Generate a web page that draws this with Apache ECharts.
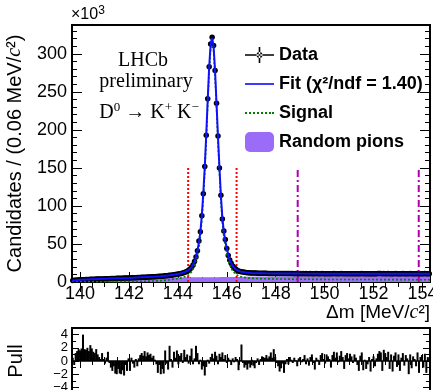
<!DOCTYPE html>
<html><head><meta charset="utf-8">
<script src="https://cdn.jsdelivr.net/npm/echarts@6/dist/echarts.min.js"></script>
<style>html,body{margin:0;padding:0;background:#fff}#c{width:433px;height:390px}</style>
</head><body><div id="c"></div><script>
// ---------------- data ----------------
const binStart = 139.67, binWidth = 0.06;   // histogram binning (MeV/c^2)
// Candidates per bin, in units of 10^3
const counts = [
 2.0, 2.2, 2.4, 2.5, 2.7, 2.8, 2.9, 3.0, 3.1, 3.2,
 3.3, 3.4, 3.5, 3.6, 3.6, 3.7, 3.8, 3.9, 3.9, 4.0,
 4.1, 4.1, 4.2, 4.3, 4.3, 4.4, 4.5, 4.5, 4.6, 4.7,
 4.8, 4.8, 4.9, 5.0, 5.0, 5.1, 5.2, 5.3, 5.3, 5.4,
 5.5, 5.6, 5.6, 5.7, 5.8, 5.9, 6.0, 6.1, 6.2, 6.3,
 6.4, 6.5, 6.6, 6.7, 6.8, 6.8, 6.9, 7.1, 7.2, 7.4,
 7.5, 7.7, 7.9, 8.1, 8.3, 8.5, 8.8, 9.0, 9.3, 9.6,
 9.9, 10.2, 10.6, 10.9, 11.3, 11.8, 12.4, 13.2, 14.2, 15.5,
 17.2, 19.5, 22.5, 27, 33, 41, 54, 66, 87, 116,
 152, 193, 241, 283, 313, 322, 311, 278, 235, 192,
 150, 114, 83, 67, 56, 44, 35, 29, 24.5, 21,
 18.7, 17.0, 15.6, 14.6, 13.9, 13.4, 13.0, 12.7, 12.5, 12.3,
 12.1, 12.0, 11.9, 11.8, 11.7, 11.7, 11.6, 11.6, 11.5, 11.5,
 11.4, 11.4, 11.4, 11.3, 11.3, 11.3, 11.3, 11.2, 11.2, 11.2,
 11.2, 11.1, 11.2, 11.1, 11.1, 11.2, 11.1, 11.1, 11.1, 11.2,
 11.1, 11.0, 11.1, 11.1, 11.0, 11.1, 11.0, 11.1, 11.0, 11.1,
 11.0, 11.0, 11.1, 11.0, 11.0, 11.0, 11.1, 11.0, 11.0, 11.0,
 11.1, 11.0, 11.0, 11.0, 11.0, 10.9, 11.0, 11.0, 11.1, 11.0,
 11.0, 11.0, 11.0, 11.1, 11.0, 10.9, 11.0, 11.0, 11.0, 11.0,
 11.0, 11.0, 11.0, 11.0, 10.9, 10.9, 11.0, 11.1, 10.9, 11.0,
 10.9, 11.0, 11.0, 10.9, 11.0, 11.0, 10.9, 11.0, 11.1, 11.1,
 11.1, 10.9, 11.1, 11.0, 11.0, 11.1, 10.9, 11.0, 10.9, 11.0,
 11.1, 10.9, 11.0, 10.9, 11.0, 11.1, 10.9, 11.0, 11.0, 10.8,
 11.1, 10.9, 11.0, 11.0, 10.9, 11.1, 10.8, 11.0, 11.0, 10.9,
 11.1, 10.8, 11.0, 11.0
];
// Pull per bin
const pulls = [
 0.5, -0.6, 1.2, 1.5, 1.8, 1.6, 1.9, 4.0, 1.8, 1.7,
 2.0, 1.5, 2.4, 1.9, 1.4, 1.2, 1.8, 1.0, 0.6, 0.3,
 1.2, 0.3, -0.4, 0.5, 1.4, -0.3, -1.0, -1.5, -0.8, -1.9,
 -2.0, -1.2, -1.9, -2.0, -1.4, -2.2, -0.6, -1.5, 0.4, -1.5,
 0.5, -0.4, -1.0, 0.3, -0.8, 0.4, 0.9, 1.2, 0.8, 1.5,
 0.7, 1.3, 0.9, 1.1, 0.5, 0.8, 0.2, -0.5, -1.8, -0.6,
 -2.0, -1.2, -1.9, 1.6, -0.4, -1.3, 2.3, 0.3, -1.0, 1.4,
 0.5, 1.6, -0.5, 0.8, 1.2, -0.3, 1.7, 0.6, 1.0, -0.4,
 0.8, 1.9, -0.5, 0.4, 2.3, 1.2, -0.5, 0.2, -1.3, -0.8,
 -2.2, -0.9, 0.2, -0.4, 0.6, 1.1, 0.4, 1.4, 0.8, -0.5,
 1.1, 0.6, 1.3, 0.3, 0.9, -0.3, 0.5, 0.2, -0.6, 0.4,
 -0.2, 0.6, 0.3, -1.4, 0.1, 2.5, -0.3, -1.0, -0.6, -1.3,
 -0.4, -1.0, 0.2, -0.7, -1.1, -0.3, 0.4, -0.6, 0.3, 0.7,
 0.2, 0.5, 0.9, 0.4, 0.7, 1.3, 0.5, 1.8, 0.6, -0.3,
 -0.8, -1.6, -1.1, -0.4, -1.8, -0.5, 0.3, -0.5, 0.6, 0.2,
 -0.3, 0.5, 0.1, -0.8, 0.4, 0.6, -0.2, 0.3, 0.9, -0.5,
 0.4, -0.7, 0.6, 1.0, -0.3, -1.3, 0.5, 0.2, -0.6, 0.9,
 1.2, 0.3, -0.4, 1.0, 0.7, 0.3, -1.0, 0.9, 1.4, 0.5,
 1.3, -0.2, 0.8, 1.5, 0.6, -1.2, 0.9, 1.2, 0.4, 1.1,
 0.7, -0.3, 1.0, 0.5, -0.6, -1.5, 0.8, 1.3, -1.4, 0.2,
 -1.2, -0.5, 0.6, -1.6, 0.3, 0.7, -0.8, 0.4, 1.1, 1.5,
 1.3, -1.5, 1.7, 1.2, 0.6, 1.4, -1.2, 1.0, -1.6, 0.8,
 1.3, -0.9, 1.0, -1.5, 0.5, 1.2, -0.7, 0.9, 0.4, -2.0,
 1.0, -1.1, 0.7, 0.3, -0.8, 1.3, -1.8, 0.6, 0.9, -1.0,
 1.1, -1.8, 0.6, 0.4
];
// Fit model components (10^3 per bin), sampled at fitX
const fitX = [139.67, 139.75, 139.85, 140.00, 140.25, 140.50, 140.75, 141.00, 141.50, 142.00,
 142.50, 143.00, 143.30, 143.60, 143.90, 144.10, 144.30, 144.44, 144.56, 144.68,
 144.80, 144.86, 144.92, 144.98, 145.04, 145.10, 145.16, 145.22, 145.28, 145.34,
 145.40, 145.46, 145.52, 145.58, 145.64, 145.70, 145.76, 145.82, 145.88, 145.94,
 146.00, 146.12, 146.24, 146.36, 146.48, 146.60, 146.80, 147.00, 147.30, 147.60,
 148.00, 148.50, 149.00, 150.00, 151.00, 152.00, 153.00, 154.00, 154.31];
const fitTotal = [1.8, 2.1, 2.4, 2.8, 3.2, 3.6, 3.9, 4.2, 4.8, 5.4,
 6.1, 6.8, 7.5, 8.5, 9.9, 11.1, 13.2, 15.5, 19.5, 27,
 41, 52, 66, 88, 117, 152, 194, 240, 283, 313,
 321, 310, 278, 235, 191, 150, 113, 84, 66, 54,
 44, 29, 21, 17, 14.6, 13.4, 12.5, 11.9, 11.6, 11.4,
 11.3, 11.2, 11.1, 11.0, 11.0, 11.0, 11.0, 11.0, 11.0];
const fitSignal = [1.0, 0.8, 0.7, 0.6, 0.5, 0.5, 0.4, 0.4, 0.5, 0.6,
 0.9, 1.3, 1.8, 2.7, 4.0, 5.1, 7.1, 9.4, 13.3, 20.8,
 34.8, 45.7, 59.7, 81.7, 110.7, 145.7, 187.7, 233.6, 276.6, 306.6,
 314.6, 303.6, 271.6, 228.6, 184.6, 143.5, 106.5, 77.5, 59.5, 47.5,
 37.5, 22.4, 14.4, 10.3, 7.9, 6.6, 5.6, 4.9, 4.5, 4.2,
 4.0, 3.8, 3.6, 3.4, 3.3, 3.2, 3.1, 3.0, 3.0];
const fitRandomPions = [0.8, 1.3, 1.7, 2.2, 2.7, 3.1, 3.5, 3.8, 4.3, 4.8,
 5.2, 5.5, 5.7, 5.8, 5.9, 6.0, 6.1, 6.1, 6.2, 6.2,
 6.2, 6.3, 6.3, 6.3, 6.3, 6.3, 6.3, 6.4, 6.4, 6.4,
 6.4, 6.4, 6.4, 6.4, 6.4, 6.5, 6.5, 6.5, 6.5, 6.5,
 6.5, 6.6, 6.6, 6.7, 6.7, 6.8, 6.9, 7.0, 7.1, 7.2,
 7.3, 7.4, 7.5, 7.6, 7.7, 7.8, 7.9, 8.0, 8.0];
// Signal window and sideband boundaries
const signalWindow = [144.42, 146.40];
const sidebandLines = [148.9, 153.85];
const boundaryTop = 150;
// Axis ticks
const xMajor = [140, 142, 144, 146, 148, 150, 152, 154];
const xMinor = [140, 140.5, 141, 141.5, 142, 142.5, 143, 143.5, 144, 144.5, 145, 145.5, 146, 146.5,
 147, 147.5, 148, 148.5, 149, 149.5, 150, 150.5, 151, 151.5, 152, 152.5, 153, 153.5, 154];
const yMajor = [0, 50, 100, 150, 200, 250, 300];
const yMinor = [10, 20, 30, 40, 60, 70, 80, 90, 110, 120, 130, 140, 160, 170, 180, 190,
 210, 220, 230, 240, 260, 270, 280, 290, 310, 320, 330];
const pullMajor = [-4, -2, 0, 2, 4];
const pullMinor = [-5, -3, -1, 1, 3, 5];

// ---------------- chart ----------------
const SANS = '"Liberation Sans", Arial, Helvetica, sans-serif';
const SERIF = '"Liberation Serif", "Times New Roman", serif';
const xMin = binStart, xMax = binStart + counts.length * binWidth;
const centers = counts.map((_, i) => +(binStart + (i + 0.5) * binWidth).toFixed(3));

function xAx(grid, pos, ticks, len, label, extra) {
  return Object.assign({
    type: 'value', gridIndex: grid, position: pos, min: xMin, max: xMax,
    axisLine: { show: false }, splitLine: { show: false },
    axisTick: { show: true, inside: true, length: len, customValues: ticks, lineStyle: { color: '#000', width: 1 } },
    axisLabel: label ? { show: true, customValues: ticks, margin: 3, fontSize: 18, color: '#000', fontFamily: SANS, hideOverlap: false } : { show: false }
  }, extra || {});
}
function yAx(grid, pos, min, max, ticks, len, label, extra) {
  return Object.assign({
    type: 'value', gridIndex: grid, position: pos, min: min, max: max,
    axisLine: { show: false }, splitLine: { show: false },
    axisTick: { show: true, inside: true, length: len, customValues: ticks, lineStyle: { color: '#000', width: 1 } },
    axisLabel: label || { show: false }
  }, extra || {});
}
const richC = { i: { fontSize: 20, fontFamily: SERIF, fontStyle: 'italic', color: '#000' } };

const option = {
  animation: false,
  backgroundColor: '#fff',
  grid: [
    { left: 72, top: 25, width: 358, height: 257, show: true, borderColor: '#000', borderWidth: 2, backgroundColor: 'transparent', outerBoundsMode: 'none', containLabel: false },
    { left: 72, top: 328, width: 358, height: 66, show: true, borderColor: '#000', borderWidth: 2, backgroundColor: 'transparent', outerBoundsMode: 'none', containLabel: false }
  ],
  xAxis: [
    xAx(0, 'bottom', xMajor, 10, true, {
      name: 'Δm [MeV/{i|c}²]', nameLocation: 'end', nameGap: 0,
      nameTextStyle: { fontSize: 19, fontFamily: SANS, color: '#000', align: 'right', verticalAlign: 'top', padding: [21, 0, 0, 0], rich: richC }
    }),
    xAx(0, 'bottom', xMinor, 5, false),
    xAx(0, 'top', xMajor, 10, false),
    xAx(0, 'top', xMinor, 5, false),
    xAx(1, 'bottom', xMajor, 7, false),
    xAx(1, 'bottom', xMinor, 4, false),
    xAx(1, 'top', xMajor, 7, false),
    xAx(1, 'top', xMinor, 4, false)
  ],
  yAxis: [
    yAx(0, 'left', 0, 338, yMajor, 10,
      { show: true, customValues: yMajor, margin: 5, fontSize: 18, color: '#000', fontFamily: SANS, hideOverlap: false },
      { name: 'Candidates / (0.06 MeV/{i|c}²)', nameLocation: 'middle', nameRotate: 90, nameGap: 47,
        nameTextStyle: { fontSize: 20, fontFamily: SANS, color: '#000', rich: richC } }),
    yAx(0, 'left', 0, 338, yMinor, 5),
    yAx(0, 'right', 0, 338, yMajor, 10),
    yAx(0, 'right', 0, 338, yMinor, 5),
    yAx(1, 'left', -5, 5, pullMajor, 7,
      { show: true, customValues: pullMajor, margin: 4, fontSize: 13, color: '#000', fontFamily: SANS, hideOverlap: false,
        showMinLabel: true, showMaxLabel: true, formatter: v => String(v).replace('-', '\u2212') },
      { name: 'Pull', nameLocation: 'middle', nameRotate: 90, nameGap: 46,
        nameTextStyle: { fontSize: 20, fontFamily: SANS, color: '#000' } }),
    yAx(1, 'left', -5, 5, pullMinor, 4),
    yAx(1, 'right', -5, 5, pullMajor, 7),
    yAx(1, 'right', -5, 5, pullMinor, 4)
  ],
  legend: {
    left: 245, top: 45, orient: 'vertical', padding: 0, itemWidth: 29, itemHeight: 20, itemGap: 9,
    textStyle: { fontSize: 18, fontWeight: 'bold', fontFamily: SANS, color: '#000', lineHeight: 20 },
    selectedMode: false,
    data: [
      { name: 'Data', icon: 'path://M0 9.2h29v1.6h-29z M13.7 2h1.6v16h-1.6z M17.5 10a3 3 0 1 0 -6 0a3 3 0 1 0 6 0z M0 0h0.01v0.01h-0.01z M0 20h0.01v-0.01h-0.01z',
        itemStyle: { color: '#000', opacity: 1, borderWidth: 0 } },
      { name: 'Fit (χ²/ndf = 1.40)', icon: 'path://M0 0h29v2h-29z', itemStyle: { color: '#3a3aff', borderWidth: 0 } },
      { name: 'Signal', icon: 'path://M0 0h2v2h-2z M4 0h2v2h-2z M8 0h2v2h-2z M12 0h2v2h-2z M16 0h2v2h-2z M20 0h2v2h-2z M24 0h2v2h-2z M27 0h2v2h-2z',
        itemStyle: { color: '#008000', borderWidth: 0 } },
      { name: 'Random pions', icon: 'roundRect', itemStyle: { color: '#9a6cf7', borderWidth: 0 } }
    ]
  },
  graphic: [
    { type: 'text', left: 71, top: 5, style: { text: '×10{s|3}', fontSize: 16, fontFamily: SANS, fill: '#000', lineHeight: 20,
      rich: { s: { fontSize: 12, fontFamily: SANS, fill: '#000', verticalAlign: 'top', lineHeight: 20 } } } },
    { type: 'text', x: 143, y: 61, style: { text: 'LHCb', fontSize: 20, fontFamily: SERIF, fill: '#000', align: 'center', verticalAlign: 'middle' } },
    { type: 'text', x: 146, y: 82, style: { text: 'preliminary', fontSize: 20, fontFamily: SERIF, fill: '#000', align: 'center', verticalAlign: 'middle' } },
    { type: 'text', x: 149, y: 113, style: {
      text: 'D{s|0} → K{s|+} K{s|−}', fontSize: 20, fontFamily: SERIF, fill: '#000', align: 'center', verticalAlign: 'middle', lineHeight: 24,
      rich: { s: { fontSize: 13, fontFamily: SERIF, fill: '#000', verticalAlign: 'top', lineHeight: 24 } } } }
  ],
  series: [
    { name: 'Random pions', type: 'line', xAxisIndex: 0, yAxisIndex: 0, z: 1, symbol: 'none', color: '#9a6cf7',
      lineStyle: { width: 0 }, areaStyle: { color: '#9a6cf7', opacity: 1 },
      data: fitX.map((x, i) => [x, fitRandomPions[i]]) },
    ...signalWindow.map(x => ({ type: 'line', xAxisIndex: 0, yAxisIndex: 0, z: 2, symbol: 'none', silent: true,
      lineStyle: { color: '#ff0000', width: 2, type: [2, 2] }, data: [[x, 0], [x, boundaryTop]] })),
    ...sidebandLines.map(x => ({ type: 'line', xAxisIndex: 0, yAxisIndex: 0, z: 2, symbol: 'none', silent: true,
      lineStyle: { color: '#b000b0', width: 2, type: [7, 3, 2, 3] }, data: [[x, 0], [x, boundaryTop]] })),
    { name: 'Data', type: 'scatter', xAxisIndex: 0, yAxisIndex: 0, z: 3, symbol: 'circle', symbolSize: 5.5,
      itemStyle: { color: '#000', opacity: 1 },
      data: centers.map((x, i) => [x, counts[i]]) },
    { name: 'Signal', type: 'line', xAxisIndex: 0, yAxisIndex: 0, z: 4, symbol: 'none', color: '#008000',
      lineStyle: { color: '#008000', width: 1.6, type: [2, 2] },
      data: fitX.map((x, i) => [x, fitSignal[i]]) },
    { name: 'Fit (χ²/ndf = 1.40)', type: 'line', xAxisIndex: 0, yAxisIndex: 0, z: 5, symbol: 'none', color: '#1010ff',
      lineStyle: { color: '#1010ff', width: 2 },
      data: fitX.map((x, i) => [x, fitTotal[i]]) },
    { name: 'Pull', type: 'bar', xAxisIndex: 4, yAxisIndex: 4, barWidth: 2, color: '#000',
      data: centers.map((x, i) => [x, pulls[i]]),
      markLine: { silent: true, symbol: 'none', label: { show: false }, lineStyle: { color: '#000', width: 1.5, type: 'solid' }, data: [{ yAxis: 0 }] } }
  ]
};
const chart = echarts.init(document.getElementById('c'), null, { renderer: 'canvas' });
chart.setOption(option);
</script></body></html>
